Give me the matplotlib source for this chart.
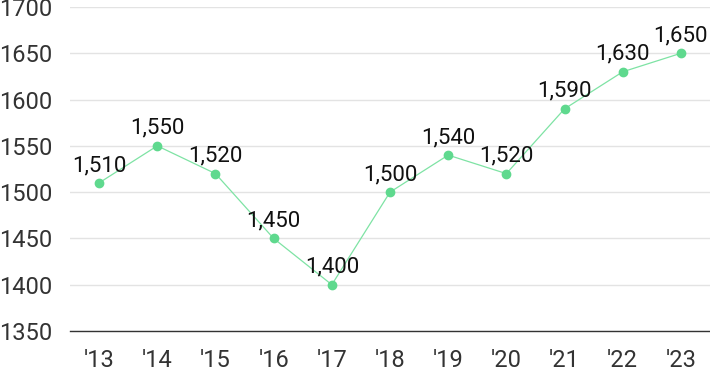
import numpy as np
import matplotlib.pyplot as plt

plt.rcParams['font.family'] = ['Roboto', 'DejaVu Sans']

years = ["'13", "'14", "'15", "'16", "'17", "'18", "'19", "'20", "'21", "'22", "'23"]
values = [1510, 1550, 1520, 1450, 1400, 1500, 1540, 1520, 1590, 1630, 1650]
yticks = [1350, 1400, 1450, 1500, 1550, 1600, 1650, 1700]

fig = plt.figure(figsize=(7.1, 3.71), dpi=100)
ax = fig.add_axes([70 / 710, 1 - 331 / 371, 640 / 710, 324 / 371])

x = np.arange(len(years))
ax.plot(x, values, color='#7ee3a4', lw=0.9, marker='o', ms=6,
        mfc='#5fd98e', mec='#5fd98e', zorder=3)

for xi, v in zip(x, values):
    ax.annotate(f"{v:,}", (xi, v), xytext=(0, 5), textcoords='offset points',
                ha='center', va='bottom', fontsize=16, color='#111111', zorder=4)

ax.set_xlim(-0.5, len(years) - 0.5)
ax.set_ylim(1350, 1700)
ax.set_yticks(yticks)
ax.set_xticks(x)
ax.set_xticklabels(years)
ax.grid(axis='y', color='#e3e3e3', lw=1)
ax.set_axisbelow(True)
for s in ['top', 'right', 'left']:
    ax.spines[s].set_visible(False)
ax.spines['bottom'].set_color('#333333')
ax.spines['bottom'].set_linewidth(1)
ax.tick_params(axis='both', length=0, labelsize=17, colors='#333333')
ax.tick_params(axis='y', pad=13)
ax.tick_params(axis='x', pad=13)

fig.savefig('out.png', dpi=100)
